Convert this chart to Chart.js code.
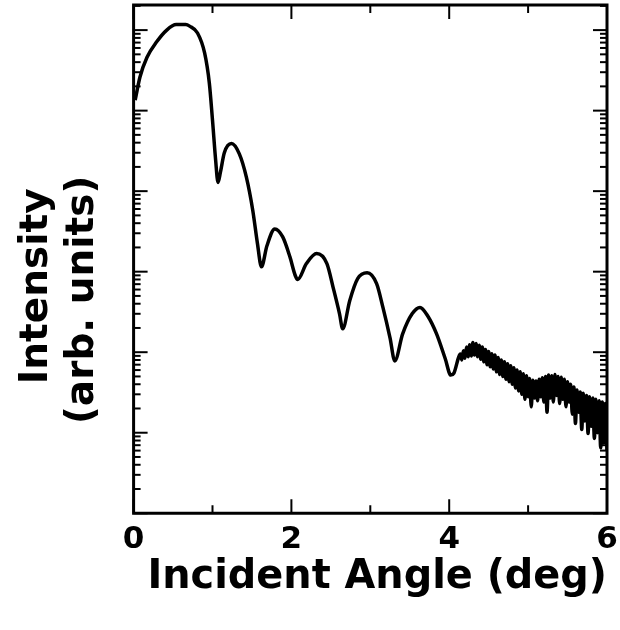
<!DOCTYPE html>
<html>
<head>
<meta charset="utf-8">
<script src="https://cdn.jsdelivr.net/npm/chart.js@4.4.0/dist/chart.umd.min.js"></script>
<style>
  html, body { margin: 0; padding: 0; background: #fff; }
  canvas { display: block; }
</style>
</head>
<body>
<canvas id="chart" width="620" height="630"></canvas>
<script>
// incident angle (deg)
const angle = [
  0.02, 0.08, 0.17, 0.29, 0.42, 0.54, 0.66, 0.71, 0.81, 0.90, 0.96, 1.00, 1.04, 1.07, 1.10, 1.15,
  1.24, 1.34, 1.43, 1.51, 1.57, 1.62, 1.69, 1.79, 1.89, 1.98, 2.05, 2.08, 2.19, 2.32, 2.45, 2.53,
  2.61, 2.65, 2.74, 2.84, 2.96, 3.08, 3.16, 3.25, 3.31, 3.41, 3.53, 3.63, 3.73, 3.84, 3.95, 4.02,
  4.06, 4.12,
  4.14, 4.16, 4.18, 4.20, 4.22, 4.24, 4.26, 4.28, 4.30, 4.32, 4.34, 4.36, 4.38, 4.40, 4.42, 4.44,
  4.46, 4.48, 4.50, 4.52, 4.54, 4.56, 4.58, 4.60, 4.62, 4.64, 4.66, 4.68, 4.70, 4.72, 4.74, 4.76,
  4.78, 4.80, 4.82, 4.84, 4.86, 4.88, 4.90, 4.92, 4.94, 4.96, 4.98, 5.00, 5.02, 5.04, 5.06, 5.08,
  5.10, 5.12, 5.14, 5.16, 5.18, 5.20, 5.22, 5.24, 5.26, 5.28, 5.30, 5.32, 5.34, 5.36, 5.38, 5.40,
  5.42, 5.44, 5.46, 5.48, 5.50, 5.52, 5.54, 5.56, 5.58, 5.60, 5.62, 5.64, 5.66, 5.68, 5.70, 5.72,
  5.74, 5.76, 5.78, 5.80, 5.82, 5.84, 5.86, 5.88, 5.90, 5.92, 5.94, 5.96, 5.98, 6.00
];

// intensity (arb. units)
const intensity = [
  1.35e5, 2.6e5, 4.6e5, 7.1e5, 1.0e6, 1.17e6, 1.17e6, 1.12e6, 9.2e5, 5.2e5, 2.19e5, 7.6e4, 2.41e4, 1.28e4, 1.71e4, 3.0e4,
  3.9e4, 2.9e4, 1.48e4, 5800, 2230, 1150, 2100, 3400, 2700, 1540, 890, 800, 1260, 1680, 1260, 630,
  300, 195, 440, 820, 970, 710, 360, 151, 78, 169, 300, 360, 280, 169, 83, 52,
  55, 87,
  95, 80, 104, 84, 116, 88, 124, 90, 132, 92, 128, 88, 122, 82, 116, 76,
  108, 70, 102, 66, 96, 62, 92, 57, 86, 53, 80, 50, 76, 46, 72, 43,
  68, 40, 64, 36, 60, 33, 57, 30, 54, 26, 51, 28, 47, 21, 45, 27,
  44, 25, 46, 28, 48, 24, 50, 18, 52, 27, 51, 24, 53, 29, 50, 23,
  49, 26, 46, 21, 43, 24, 40, 17, 37, 13, 34, 18, 32, 11, 31, 14,
  29, 9.8, 28, 12, 27, 8.5, 26, 10, 25, 6.5, 24, 7.5, 23, 6
];

const xMajorTicks = [0, 2, 4, 6];
const xMinorTicks = [1, 3, 5];
const yDecades = [1, 10, 100, 1e3, 1e4, 1e5, 1e6];
const yMinorSteps = [2, 3, 4, 5, 6, 7, 8, 9];

// frame with inward ticks on all four sides
const frameTicks = {
  id: 'frameTicks',
  afterDatasetsDraw(chart) {
    const { ctx, chartArea: a, scales: { x, y } } = chart;
    const line = (x1, y1, x2, y2) => {
      ctx.beginPath();
      ctx.moveTo(x1, y1);
      ctx.lineTo(x2, y2);
      ctx.stroke();
    };
    ctx.save();
    ctx.strokeStyle = '#000';
    ctx.lineWidth = 2;

    const xTick = (v, len) => {
      const p = x.getPixelForValue(v);
      line(p, a.bottom, p, a.bottom - len);
      line(p, a.top, p, a.top + len);
    };
    xMajorTicks.forEach(v => xTick(v, 14));
    xMinorTicks.forEach(v => xTick(v, 8));

    const yTick = (v, len) => {
      if (v < y.min || v > y.max) return;
      const p = y.getPixelForValue(v);
      line(a.left, p, a.left + len, p);
      line(a.right, p, a.right - len, p);
    };
    yDecades.forEach(d => {
      yTick(d, 14);
      yMinorSteps.forEach(m => yTick(d * m, 7));
    });

    ctx.lineWidth = 3;
    ctx.strokeRect(a.left, a.top, a.right - a.left, a.bottom - a.top);
    ctx.restore();
  }
};

const labelFont = 'DejaVu Sans';

new Chart(document.getElementById('chart'), {
  type: 'line',
  data: {
    labels: angle,
    datasets: [{
      data: angle.map((a, i) => ({ x: a, y: intensity[i] })),
      borderColor: '#000',
      borderWidth: 3.5,
      pointRadius: 0,
      cubicInterpolationMode: 'monotone',
      fill: false,
    }],
  },
  options: {
    responsive: false,
    animation: false,
    layout: { padding: { top: 5, right: 13, bottom: 41, left: 0 } },
    plugins: {
      legend: { display: false },
      tooltip: { enabled: false },
    },
    scales: {
      x: {
        type: 'linear',
        min: 0,
        max: 6,
        grid: { display: false, drawTicks: false },
        border: { display: false },
        afterFit(scale) {
          // let the end labels hang over the frame like the original
          scale.paddingLeft = 0;
          scale.paddingRight = 0;
        },
        ticks: {
          stepSize: 2,
          padding: 8,
          color: '#000',
          font: { family: labelFont, size: 31, weight: 'bold' },
        },
        title: {
          display: true,
          text: ' Incident Angle (deg)',
          color: '#000',
          padding: { top: 0, bottom: 0 },
          font: { family: labelFont, size: 41, weight: 'bold', lineHeight: 0.55 },
        },
      },
      y: {
        type: 'logarithmic',
        min: 1,
        max: 2.05e6,
        grid: { display: false, drawTicks: false },
        border: { display: false },
        ticks: { display: false },
        title: {
          display: true,
          text: ['Intensity    ', '(arb. units)      '],
          color: '#000',
          padding: { top: 13, bottom: 27 },
          font: { family: labelFont, size: 39, weight: 'bold', lineHeight: 1.2 },
        },
      },
    },
  },
  plugins: [frameTicks],
});
</script>
</body>
</html>
